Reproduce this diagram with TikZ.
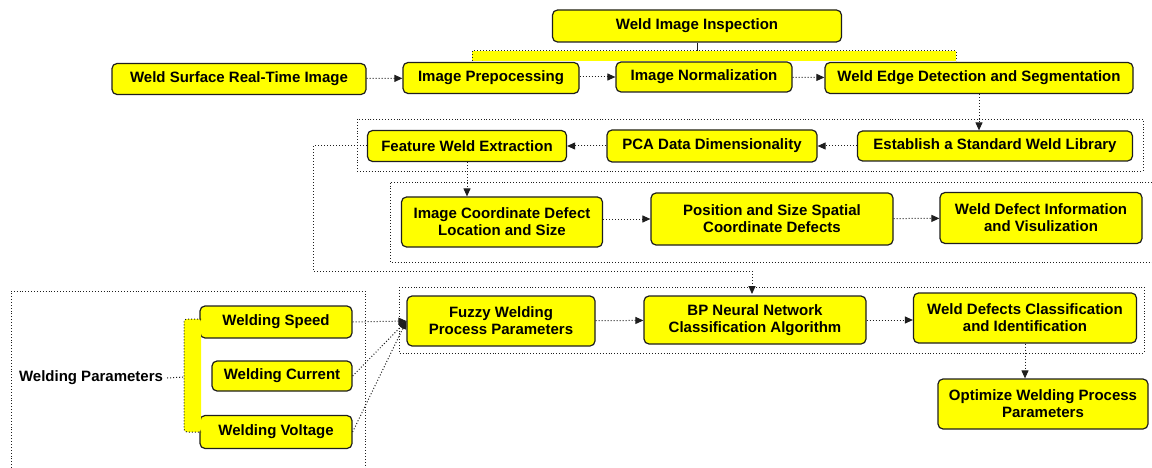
\documentclass[tikz,border=0pt]{standalone}
\usepackage{fontspec}
\setmainfont{Liberation Sans}
\usetikzlibrary{arrows.meta, positioning}
\definecolor{weldyellow}{RGB}{255, 255, 0}
\definecolor{inkgray}{RGB}{30, 30, 30}

\begin{document}
\begin{tikzpicture}[
  x=1pt, y=-1pt,
  wbox/.style={draw=inkgray, line width=1.2pt, fill=weldyellow, rounded corners=5pt,
    font=\fontsize{15}{17}\selectfont\bfseries, align=center, inner sep=0pt},
  flow/.style={draw=inkgray, dotted, line width=1pt, -{Triangle[length=8pt, width=7pt]}},
  link/.style={draw=inkgray, dotted, line width=1pt},
  group/.style={draw=inkgray, dotted, line width=0.9pt}
]
  \useasboundingbox (0,0) rectangle (1152,468);

  % dotted frames round the stages
  \draw[group] (357,119) rectangle (1143,171);
  \draw[group] (1152,182) -- (390,182) -- (390,262) -- (1152,262);
  \draw[group] (399,287) rectangle (1144,353);
  \draw[group] (11,468) -- (11,291) -- (365,291) -- (365,468);

  % image branch
  \node[wbox, minimum width=289pt, minimum height=32pt] (inspect) at (697,26) {Weld Image Inspection};
  \node[wbox, minimum width=254pt, minimum height=31pt] (surface) at (239,79) {Weld Surface Real-Time Image};
  \node[wbox, minimum width=176pt, minimum height=31pt] (prep) at (491,78) {Image Prepocessing};
  \node[wbox, minimum width=176pt, minimum height=30pt] (norm) at (704,77) {Image Normalization};
  \node[wbox, minimum width=308pt, minimum height=31pt] (edge) at (979,78) {Weld Edge Detection and Segmentation};

  \node[wbox, minimum width=275pt, minimum height=30pt] (library) at (995,146) {Establish a Standard Weld Library};
  \node[wbox, minimum width=210pt, minimum height=32pt] (pca) at (712,146) {PCA Data Dimensionality};
  \node[wbox, minimum width=199pt, minimum height=31pt] (feature) at (467,146) {Feature Weld Extraction};

  \node[wbox, minimum width=201pt, minimum height=50pt] (coord) at (502,222) {Image Coordinate Defect\\Location and Size};
  \node[wbox, minimum width=242pt, minimum height=52pt] (spatial) at (772,219) {Position and Size Spatial\\Coordinate Defects};
  \node[wbox, minimum width=202pt, minimum height=51pt] (info) at (1041,218) {Weld Defect Information\\and Visulization};

  % process branch
  \node[wbox, minimum width=188pt, minimum height=50pt] (fuzzy) at (501,321) {Fuzzy Welding\\Process Parameters};
  \node[wbox, minimum width=222pt, minimum height=48pt] (bp) at (755,320) {BP Neural Network\\Classification Algorithm};
  \node[wbox, minimum width=223pt, minimum height=50pt] (classify) at (1025,318) {Weld Defects Classification\\and Identification};
  \node[wbox, minimum width=210pt, minimum height=50pt] (optimize) at (1043,404) {Optimize Welding Process\\Parameters};

  \node[wbox, minimum width=152pt, minimum height=32pt] (speed) at (276,322) {Welding Speed};
  \node[wbox, minimum width=140pt, minimum height=30pt] (current) at (282,376) {Welding Current};
  \node[wbox, minimum width=152pt, minimum height=33pt] (voltage) at (276,432) {Welding Voltage};
  \node[font=\fontsize{15}{17}\selectfont\bfseries, inner sep=0pt] (params) at (91,378) {Welding Parameters};

  % split under the inspection box
  \coordinate (splitL) at (472,51);
  \coordinate (splitR) at (956,51);
  \fill[weldyellow] (472,51) rectangle (956,61);
  \draw[link] (472,61) -- (splitL) -- (splitR) -- (956,61);
  \draw[inkgray, line width=1pt] (inspect.south) -- (inspect.south |- splitL);

  % brace of the parameters
  \coordinate (braceM) at (184,377);
  \fill[weldyellow, rounded corners=3pt] (201,319) -- (184,319) -- (184,432) -- (201,432) -- cycle;
  \draw[link, rounded corners=3pt] (201,319) -- (184,319) -- (184,432) -- (201,432);
  \draw[link] (params.east) ++(4,0) -- (braceM);

  % flow arrows
  \draw[flow] (surface) -- (prep);
  \draw[flow] (prep.east |- norm) -- (norm);
  \draw[flow] (norm) -- (edge);
  \draw[flow] (edge.south) -- (edge.south |- library.north);
  \draw[flow] (library) -- (pca);
  \draw[flow] (pca) -- (feature);
  \draw[flow] (feature.south) -- (feature.south |- coord.north);
  \draw[flow] (coord.east |- spatial) -- (spatial);
  \draw[flow] (spatial) -- (info);

  \coordinate (bptop) at (752,294);
  \draw[flow] (feature.west) -- (313,146) -- (313,271) -| (bptop);

  \draw[flow] (speed.east) -- (fuzzy.west);
  \draw[flow] (current.east) -- (fuzzy.west);
  \draw[flow] (voltage.east) -- (fuzzy.west);
  \draw[flow] (fuzzy) -- (bp);
  \draw[flow] (bp) -- (classify.west |- bp);
  \draw[flow] (classify.south) -- (optimize.north -| classify.south);
\end{tikzpicture}
\end{document}
